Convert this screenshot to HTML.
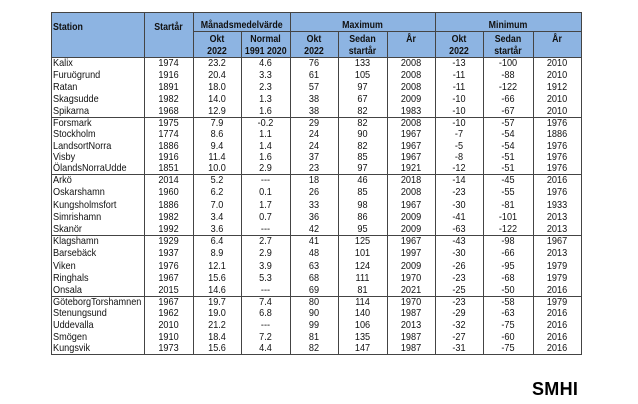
<!DOCTYPE html>
<html><head><meta charset="utf-8">
<style>
html,body{margin:0;padding:0;background:#fff;width:638px;height:404px;overflow:hidden;}
#tbl{position:absolute;left:0;top:0;width:638px;height:404px;font-family:"Liberation Sans",Arial,sans-serif;color:#111;}
.c{position:absolute;font-size:10.5px;line-height:12px;white-space:nowrap;transform:scaleX(0.87);transform-origin:50% 50%;}
.c.st{transform-origin:0 50%;}
.h{position:absolute;font-size:10.5px;font-weight:bold;line-height:12px;text-align:center;white-space:nowrap;transform:scaleX(0.84);transform-origin:50% 50%;}
.h.st{transform-origin:0 50%;}
.ln{position:absolute;background:#444;}
#hdr{position:absolute;left:51px;top:12px;width:530px;height:45px;background:#8DB4E2;}
#logo{position:absolute;left:532px;top:379px;font:bold 18px "Liberation Sans",Arial,sans-serif;color:#000;letter-spacing:0.3px;}
</style></head>
<body>
<div id="tbl">
<div id="hdr"></div>
</div>
<div id="logo">SMHI</div>
<script>
const stations=["Kalix","Furuögrund","Ratan","Skagsudde","Spikarna","Forsmark","Stockholm","LandsortNorra","Visby","ÖlandsNorraUdde","Arkö","Oskarshamn","Kungsholmsfort","Simrishamn","Skanör","Klagshamn","Barsebäck","Viken","Ringhals","Onsala","GöteborgTorshamnen","Stenungsund","Uddevalla","Smögen","Kungsvik"];
const startYear=["1974","1916","1891","1982","1968","1975","1774","1886","1916","1851","2014","1960","1886","1982","1992","1929","1937","1976","1967","2015","1967","1962","2010","1910","1973"];
const meanOkt=["23.2","20.4","18.0","14.0","12.9","7.9","8.6","9.4","11.4","10.0","5.2","6.2","7.0","3.4","3.6","6.4","8.9","12.1","15.6","14.6","19.7","19.0","21.2","18.4","15.6"];
const meanNormal=["4.6","3.3","2.3","1.3","1.6","-0.2","1.1","1.4","1.6","2.9","---","0.1","1.7","0.7","---","2.7","2.9","3.9","5.3","---","7.4","6.8","---","7.2","4.4"];
const maxOkt=["76","61","57","38","38","29","24","24","37","23","18","26","33","36","42","41","48","63","68","69","80","90","99","81","82"];
const maxSince=["133","105","97","67","82","82","90","82","85","97","46","85","98","86","95","125","101","124","111","81","114","140","106","135","147"];
const maxYear=["2008","2008","2008","2009","1983","2008","1967","1967","1967","1921","2018","2008","1967","2009","2009","1967","1997","2009","1970","2021","1970","1987","2013","1987","1987"];
const minOkt=["-13","-11","-11","-10","-10","-10","-7","-5","-8","-12","-14","-23","-30","-41","-63","-43","-30","-26","-23","-25","-23","-29","-32","-27","-31"];
const minSince=["-100","-88","-122","-66","-67","-57","-54","-54","-51","-51","-45","-55","-81","-101","-122","-98","-66","-95","-68","-50","-58","-63","-75","-60","-75"];
const minYear=["2010","2010","1912","2010","2010","1976","1886","1976","1976","1976","2016","1976","1933","2013","2013","1967","2013","1979","1979","2016","1979","2016","2016","2016","2016"];

const T=document.getElementById('tbl');
const X=[51,144,193,241,290,338,387,435,483,533,581];
const groupTops=[57,117,174,235,296,354];
function line(x,y,w,h){const d=document.createElement('div');d.className='ln';


d.style.left=x+'px';d.style.top=y+'px';d.style.width=w+'px';d.style.height=h+'px';T.appendChild(d);}
function hdr(txt,x1,x2,y,name,left){const d=document.createElement('div');d.className='h'+(left?' st':'');


d.innerHTML=txt;d.style.top=y+'px';
if(left){d.style.left=(x1+2)+'px';d.style.textAlign='left';}else{d.style.left=x1+'px';d.style.width=(x2-x1)+'px';}
T.appendChild(d);}
hdr('Station',X[0],X[1],21,'station-header',true);
hdr('Startår',X[1],X[2],21,'start-year-header');
hdr('Månadsmedelvärde',X[2],X[4],19,'monthly-mean-header');
hdr('Maximum',X[4],X[7],19,'maximum-header');
hdr('Minimum',X[7],X[10],19,'minimum-header');
const subs=['Okt<br>2022','Normal<br>1991 2020','Okt<br>2022','Sedan<br>startår','År','Okt<br>2022','Sedan<br>startår','År'];
const subNames=['mean-okt-header','mean-normal-header','max-okt-header','max-since-header','max-year-header','min-okt-header','min-since-header','min-year-header'];
for(let i=0;i<8;i++)hdr(subs[i],X[i+2],X[i+3],33,subNames[i]);
const cols=[startYear,meanOkt,meanNormal,maxOkt,maxSince,maxYear,minOkt,minSince,minYear];
const colNames=['start-year','mean-okt','mean-normal','max-okt','max-since','max-year','min-okt','min-since','min-year'];
for(let r=0;r<stations.length;r++){
 const g=Math.floor(r/5),k=r%5;
 const top=groupTops[g],h=(groupTops[g+1]-top)/5;
 const y=top+k*h+(h-12)/2;
 const s=document.createElement('div');s.className='c st';
 
 
 s.textContent=stations[r];s.style.left=(X[0]+2)+'px';s.style.top=y+'px';T.appendChild(s);
 for(let c=0;c<cols.length;c++){
  const d=document.createElement('div');d.className='c';
  
  
  d.textContent=cols[c][r];d.style.left=X[c+1]+'px';d.style.width=(X[c+2]-X[c+1])+'px';d.style.textAlign='center';d.style.top=y+'px';T.appendChild(d);
 }
}
line(X[0],12,X[10]-X[0]+1,1);
line(X[2],31,X[10]-X[2],1);
groupTops.forEach(y=>line(X[0],y,X[10]-X[0]+1,1));
X.forEach((x,i)=>{
 if(i===3||i===5||i===6||i===8||i===9)line(x,31,1,354-31);
 else line(x,12,1,354-12+1);
});
</script>
</body></html>
